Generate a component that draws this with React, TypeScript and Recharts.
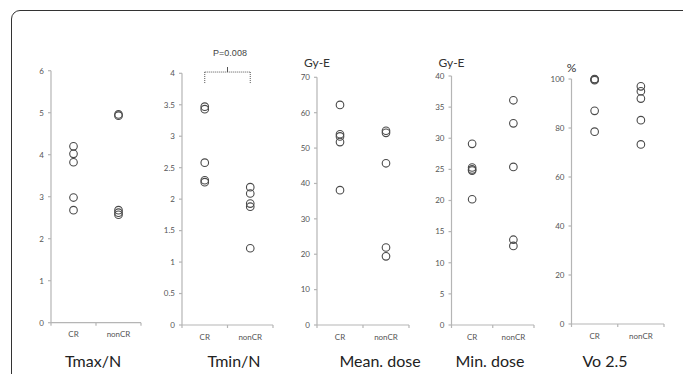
import { ScatterChart, Scatter, XAxis, YAxis, ReferenceLine } from 'recharts';

const groups = ['CR', 'nonCR'];

const tmaxCR = [4.2, 4.02, 3.82, 2.98, 2.68];
const tmaxNonCR = [4.96, 4.93, 2.68, 2.62, 2.57];

const tminCR = [3.47, 3.43, 2.58, 2.3, 2.27];
const tminNonCR = [2.19, 2.09, 1.93, 1.88, 1.22];

const meanCR = [62.2, 53.9, 53.3, 51.7, 38.1];
const meanNonCR = [54.9, 54.3, 45.7, 21.9, 19.4];

const minCR = [29.1, 25.3, 25.0, 24.8, 20.2];
const minNonCR = [36.1, 32.4, 25.4, 13.7, 12.7];

const voCR = [100, 99.8, 99.5, 87.0, 78.5];
const voNonCR = [97.0, 95.0, 92.0, 83.2, 73.3];

const tmaxTicks = [0, 1, 2, 3, 4, 5, 6];
const tminTicks = [0, 0.5, 1, 1.5, 2, 2.5, 3, 3.5, 4];
const meanTicks = [0, 10, 20, 30, 40, 50, 60, 70];
const minTicks = [0, 5, 10, 15, 20, 25, 30, 35, 40];
const voTicks = [0, 20, 40, 60, 80, 100];

const W = 683;
const H = 374;
const FONT = 'Lato, "Open Sans", sans-serif';
const X_TICK_SIZE = 3;
const X_TICK_MARGIN = 6;

const toPoints = (cr: number[], non: number[]) => [
  ...cr.map((v) => ({ x: 0.5, y: v })),
  ...non.map((v) => ({ x: 1.5, y: v })),
];

const panels = [
  { key: 'tmax', title: 'Tmax/N', unit: '', cr: tmaxCR, non: tmaxNonCR, ticks: tmaxTicks, axisX: 51, axisEnd: 141, top: 70.7, zero: 322.7, titleX: 93 },
  { key: 'tmin', title: 'Tmin/N', unit: '', cr: tminCR, non: tminNonCR, ticks: tminTicks, axisX: 182, axisEnd: 273, top: 73.3, zero: 325, titleX: 234 },
  { key: 'mean', title: 'Mean. dose', unit: 'Gy-E', cr: meanCR, non: meanNonCR, ticks: meanTicks, axisX: 317, axisEnd: 409, top: 77.3, zero: 325, titleX: 380 },
  { key: 'min', title: 'Min. dose', unit: 'Gy-E', cr: minCR, non: minNonCR, ticks: minTicks, axisX: 451.5, axisEnd: 534, top: 76, zero: 325, titleX: 490 },
  { key: 'vo', title: 'Vo 2.5', unit: '%', cr: voCR, non: voNonCR, ticks: voTicks, axisX: 571.5, axisEnd: 664, top: 79, zero: 324, titleX: 605 },
];

const Ring = (p: any) => (
  <circle cx={p.cx} cy={p.cy} r={3.8} fill="none" stroke="#4a4a4a" strokeWidth={1.1} />
);

const XTick = (p: any) => {
  const v = p.payload.value;
  const axisY = p.y - X_TICK_MARGIN - X_TICK_SIZE;
  if (Number.isInteger(v)) {
    return <line x1={p.x} x2={p.x} y1={axisY} y2={axisY + 3} stroke="#b5b5b5" strokeWidth={1.2} />;
  }
  return (
    <text x={p.x} y={p.y} dy="0.71em" textAnchor="middle" fontSize={8} fill="#555" fontFamily={FONT}>
      {groups[Math.floor(v)]}
    </text>
  );
};

function Panel({ cfg }: { cfg: (typeof panels)[number] }) {
  const yW = 30;
  const xH = 22;
  const max = cfg.ticks[cfg.ticks.length - 1];
  return (
    <div style={{ position: 'absolute', left: 0, top: 0 }}>
      <ScatterChart
        width={W}
        height={H}
        margin={{ left: cfg.axisX - yW, right: W - cfg.axisEnd, top: cfg.top, bottom: H - cfg.zero - xH }}
      >
        <XAxis
          type="number"
          dataKey="x"
          domain={[0, 2]}
          ticks={[0, 0.5, 1, 1.5, 2]}
          height={xH}
          tickSize={X_TICK_SIZE}
          tickMargin={X_TICK_MARGIN}
          tickLine={false}
          tick={XTick}
          stroke="#b5b5b5"
          strokeWidth={1.2}
          interval={0}
        />
        <YAxis
          type="number"
          dataKey="y"
          domain={[0, max]}
          ticks={cfg.ticks}
          width={yW}
          tickSize={3}
          tickMargin={4}
          interval={0}
          stroke="#b5b5b5"
          strokeWidth={1.2}
          tick={{ fontSize: 8, fill: '#555', fontFamily: FONT }}
        />
        {cfg.key === 'tmin' && (
          <>
            <ReferenceLine segment={[{ x: 0.5, y: 4.02 }, { x: 1.5, y: 4.02 }]} stroke="#555" strokeDasharray="1 1" ifOverflow="visible" />
            <ReferenceLine segment={[{ x: 0.5, y: 4.02 }, { x: 0.5, y: 3.84 }]} stroke="#555" strokeDasharray="1 1" ifOverflow="visible" />
            <ReferenceLine segment={[{ x: 1.5, y: 4.02 }, { x: 1.5, y: 3.84 }]} stroke="#555" strokeDasharray="1 1" ifOverflow="visible" />
            <ReferenceLine segment={[{ x: 1, y: 4.02 }, { x: 1, y: 4.1 }]} stroke="#555" ifOverflow="visible" />
          </>
        )}
        <Scatter data={toPoints(cfg.cr, cfg.non)} shape={Ring} isAnimationActive={false} />
      </ScatterChart>
      <div
        style={{
          position: 'absolute',
          left: cfg.titleX - 60,
          width: 120,
          top: 351,
          textAlign: 'center',
          fontFamily: FONT,
          fontSize: 16,
          color: '#222',
        }}
      >
        {cfg.title}
      </div>
      {cfg.unit && (
        <div
          style={{
            position: 'absolute',
            left: cfg.axisX - 30,
            width: 60,
            top: cfg.unit === '%' ? 60 : 55,
            textAlign: 'center',
            fontFamily: FONT,
            fontSize: 12,
            color: '#333',
          }}
        >
          {cfg.unit}
        </div>
      )}
    </div>
  );
}

export default function App() {
  return (
    <div style={{ position: 'absolute', left: 0, top: 0, width: W, height: H, background: '#fff', overflow: 'hidden' }}>
      <div
        style={{
          position: 'absolute',
          left: 11,
          top: 10,
          width: 700,
          height: 400,
          border: '1.6px solid #333',
          borderRadius: 9,
        }}
      />
      {panels.map((p) => (
        <Panel key={p.key} cfg={p} />
      ))}
      <div
        style={{
          position: 'absolute',
          left: 200,
          width: 60,
          top: 48,
          textAlign: 'center',
          fontFamily: '"Liberation Sans Narrow", "Liberation Sans", sans-serif',
          fontSize: 9,
          color: '#444',
        }}
      >
        P=0.008
      </div>
    </div>
  );
}
